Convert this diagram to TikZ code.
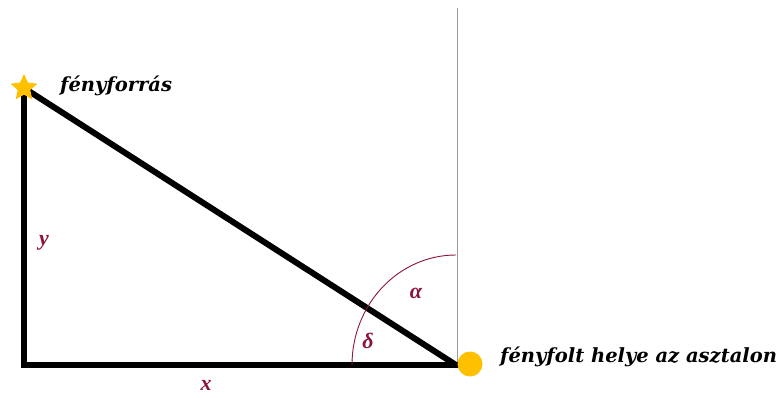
\documentclass[tikz,border=0pt]{standalone}
\usepackage{fontspec}
\setmainfont{Liberation Serif}
\newfontfamily\lblfont{DejaVu Serif}
\usepackage{tikz}
\usetikzlibrary{shapes.geometric,positioning,calc}
\definecolor{angleC}{HTML}{8B1538}
\definecolor{lampC}{HTML}{FFC000}
\definecolor{guideC}{HTML}{999999}
\begin{document}
\begin{tikzpicture}[x=1pt,y=-1pt,
 leg/.style={line width=6pt,line cap=rect},
 lbl/.style={font=\lblfont\fontsize{19.5}{22}\selectfont\bfseries\itshape,inner sep=0pt,anchor=base west},
 sym/.style={angleC,font=\fontsize{22}{26}\selectfont\bfseries\itshape}]
\useasboundingbox (0,0) rectangle (779,398);
\coordinate (corner) at (24,365);
\coordinate (foot) at (456,365);
\coordinate (src) at (24,88);
\coordinate (top) at (457,8);
\draw[guideC,line width=0.8pt] (top)--(457,365);
\draw[leg] (corner)--(src) (corner)--(foot);
\draw[leg,line cap=butt] (src)--(foot);
\draw[angleC,line width=0.9pt] ($(foot)+(0,-110)$) arc[start angle=-90,end angle=-180,x radius=104,y radius=110];
\node[star,star points=5,star point ratio=2.1,fill=lampC,inner sep=0pt,minimum size=28pt] (lamp) at (src) {};
\node[circle,fill=lampC,inner sep=0pt,minimum size=25pt] (spot) at (470,364) {};
\node[lbl] (lamplbl) at (60,92) {fényforrás};
\node[lbl] (spotlbl) at (500,362) {fényfolt helye az asztalon};
\node[sym] (ylbl) at (44,243) {y};
\node[sym] (xlbl) at (206,385) {x};
\node[sym] (alpha) at (416,293) {α};
\node[sym] (delta) at (368,341) {δ};
\end{tikzpicture}
\end{document}
